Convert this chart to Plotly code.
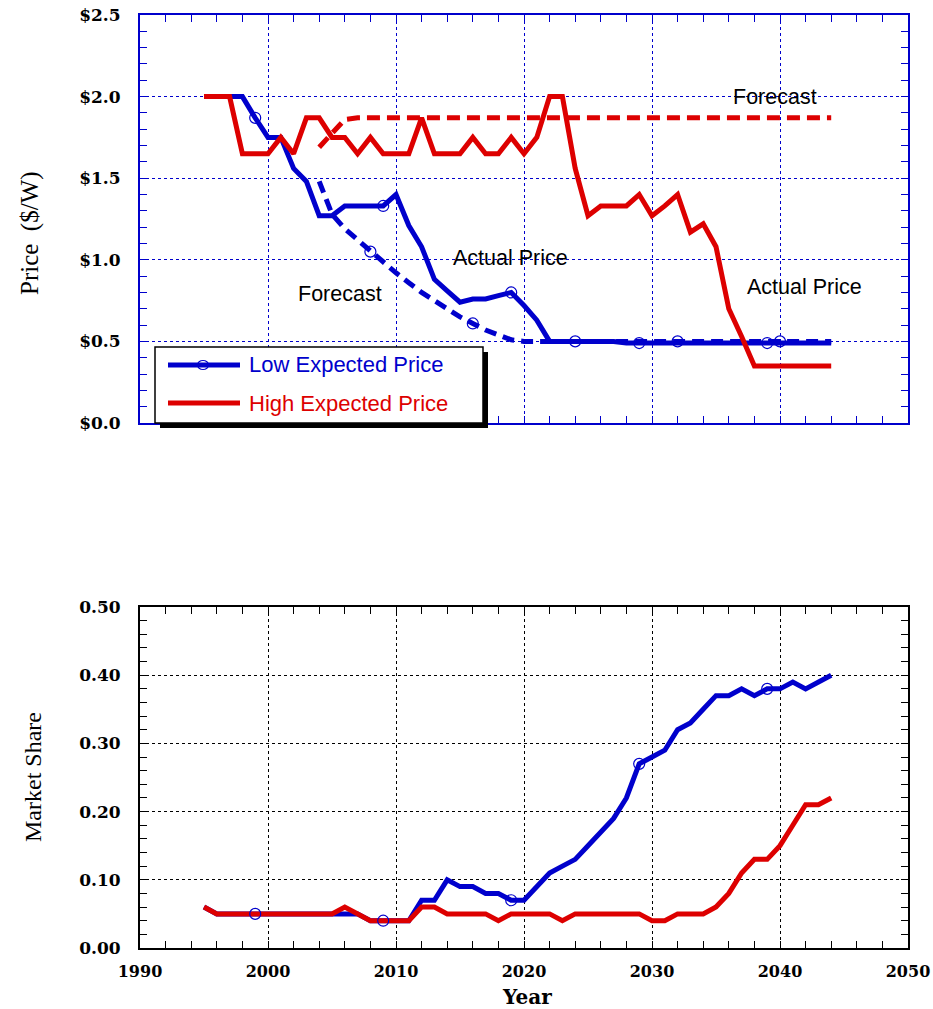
import plotly.graph_objects as go

# ---------------- data ----------------
years = list(range(1995, 2045))
forecast_years = list(range(2004, 2045))

price_low = [2.00, 2.00, 2.00, 2.00, 1.87, 1.75, 1.75, 1.56, 1.48, 1.27,
             1.27, 1.33, 1.33, 1.33, 1.33, 1.40, 1.21, 1.08, 0.88, 0.81,
             0.74, 0.76, 0.76, 0.78, 0.80, 0.72, 0.63, 0.50, 0.50, 0.50,
             0.50, 0.50, 0.50, 0.49, 0.49, 0.49, 0.49, 0.49, 0.49, 0.49,
             0.49, 0.49, 0.49, 0.49, 0.49, 0.49, 0.49, 0.49, 0.49, 0.49]
price_high = [2.00, 2.00, 2.00, 1.65, 1.65, 1.65, 1.75, 1.65, 1.87, 1.87,
              1.75, 1.75, 1.65, 1.75, 1.65, 1.65, 1.65, 1.87, 1.65, 1.65,
              1.65, 1.75, 1.65, 1.65, 1.75, 1.65, 1.75, 2.00, 2.00, 1.56,
              1.27, 1.33, 1.33, 1.33, 1.40, 1.27, 1.33, 1.40, 1.17, 1.22,
              1.08, 0.70, 0.53, 0.35, 0.35, 0.35, 0.35, 0.35, 0.35, 0.35]
forecast_low = [1.48, 1.28, 1.19, 1.12, 1.05, 0.98, 0.92, 0.86, 0.80, 0.75,
                0.70, 0.65, 0.61, 0.57, 0.54, 0.51, 0.50, 0.50, 0.50, 0.50,
                0.50, 0.50, 0.50, 0.50, 0.50, 0.50, 0.50, 0.50, 0.50, 0.50,
                0.50, 0.50, 0.50, 0.50, 0.50, 0.50, 0.50, 0.50, 0.50, 0.50, 0.50]
forecast_high = [1.69, 1.78, 1.86] + [1.87] * 38

share_low = [0.06, 0.05, 0.05, 0.05, 0.05, 0.05, 0.05, 0.05, 0.05, 0.05,
             0.05, 0.05, 0.05, 0.04, 0.04, 0.04, 0.04, 0.07, 0.07, 0.10,
             0.09, 0.09, 0.08, 0.08, 0.07, 0.07, 0.09, 0.11, 0.12, 0.13,
             0.15, 0.17, 0.19, 0.22, 0.27, 0.28, 0.29, 0.32, 0.33, 0.35,
             0.37, 0.37, 0.38, 0.37, 0.38, 0.38, 0.39, 0.38, 0.39, 0.40]
share_high = [0.06, 0.05, 0.05, 0.05, 0.05, 0.05, 0.05, 0.05, 0.05, 0.05,
              0.05, 0.06, 0.05, 0.04, 0.04, 0.04, 0.04, 0.06, 0.06, 0.05,
              0.05, 0.05, 0.05, 0.04, 0.05, 0.05, 0.05, 0.05, 0.04, 0.05,
              0.05, 0.05, 0.05, 0.05, 0.05, 0.04, 0.04, 0.05, 0.05, 0.05,
              0.06, 0.08, 0.11, 0.13, 0.13, 0.15, 0.18, 0.21, 0.21, 0.22]

marker_years_actual = [1999, 2009, 2019, 2029, 2039]
marker_years_forecast = [2008, 2016, 2024, 2032, 2040]

price_ticks = [0.0, 0.5, 1.0, 1.5, 2.0, 2.5]
price_tick_labels = ["$0.0", "$0.5", "$1.0", "$1.5", "$2.0", "$2.5"]
share_ticks = [0.0, 0.1, 0.2, 0.3, 0.4, 0.5]
share_tick_labels = ["0.00", "0.10", "0.20", "0.30", "0.40", "0.50"]
year_ticks = [1990, 2000, 2010, 2020, 2030, 2040, 2050]

legend_labels = ["Low Expected Price", "High Expected Price"]

# ---------------- styles ----------------
BLUE = "#0000CC"
RED = "#DD0000"
W, H = 933, 1009
L, R, T, B = 140, 908, 15, 948   # plot area in window pixels
PW, PH = R - L, B - T


def px(x):
    return (x - L) / PW


def py(y):
    return (B - y) / PH


def pick(xs, ys, sel):
    d = dict(zip(xs, ys))
    return [d[s] for s in sel]


fig = go.Figure()

LW = 5
# top chart
fig.add_trace(go.Scatter(x=forecast_years, y=forecast_low, mode="lines",
                         line=dict(color=BLUE, width=LW, dash="12px,7px"),
                         xaxis="x", yaxis="y", showlegend=False))
fig.add_trace(go.Scatter(x=forecast_years, y=forecast_high, mode="lines",
                         line=dict(color=RED, width=LW, dash="13px,7px"),
                         xaxis="x", yaxis="y", showlegend=False))
fig.add_trace(go.Scatter(x=years, y=price_low, mode="lines",
                         line=dict(color=BLUE, width=LW),
                         xaxis="x", yaxis="y", showlegend=False))
fig.add_trace(go.Scatter(x=years, y=price_high, mode="lines",
                         line=dict(color=RED, width=LW),
                         xaxis="x", yaxis="y", showlegend=False))
mk = dict(symbol="circle-open", size=11, color=BLUE, line=dict(width=1.2, color=BLUE))
fig.add_trace(go.Scatter(x=marker_years_actual, y=pick(years, price_low, marker_years_actual),
                         mode="markers", marker=mk, xaxis="x", yaxis="y", showlegend=False))
fig.add_trace(go.Scatter(x=marker_years_forecast, y=pick(forecast_years, forecast_low, marker_years_forecast),
                         mode="markers", marker=mk, xaxis="x", yaxis="y", showlegend=False))

# bottom chart
fig.add_trace(go.Scatter(x=years, y=share_low, mode="lines",
                         line=dict(color=BLUE, width=LW),
                         xaxis="x2", yaxis="y2", showlegend=False))
fig.add_trace(go.Scatter(x=years, y=share_high, mode="lines",
                         line=dict(color=RED, width=LW),
                         xaxis="x2", yaxis="y2", showlegend=False))
fig.add_trace(go.Scatter(x=marker_years_actual, y=pick(years, share_low, marker_years_actual),
                         mode="markers", marker=mk, xaxis="x2", yaxis="y2", showlegend=False))

YTICKFONT = dict(family="DejaVu Serif", size=17, color="black", weight="bold")
XTICKFONT = dict(family="DejaVu Serif", size=16, color="black", weight="bold")


def xax(color, labels, anchor):
    return dict(range=[1990, 2050], tickvals=year_ticks, ticktext=[str(v) for v in year_ticks],
                showticklabels=labels, automargin=False, ticklabeloverflow="allow",
                ticks="inside", ticklen=7, tickcolor=color, tickwidth=1,
                showline=True, linecolor=color, linewidth=2, mirror="allticks",
                showgrid=True, gridcolor=color, gridwidth=1, griddash="dot",
                zeroline=False, tickfont=XTICKFONT, ticklabelstandoff=8,
                minor=dict(dtick=2, ticks="inside", ticklen=7, tickcolor=color, showgrid=False),
                anchor=anchor)


def yax(color, rng, ticks, labels, mdt, domain):
    return dict(range=rng, tickvals=ticks, ticktext=labels, automargin=False,
                ticklabeloverflow="allow",
                ticks="inside", ticklen=7, tickcolor=color, tickwidth=1,
                showline=True, linecolor=color, linewidth=2, mirror="allticks",
                showgrid=True, gridcolor=color, gridwidth=1, griddash="dot",
                zeroline=False, tickfont=YTICKFONT, ticklabelstandoff=14,
                minor=dict(dtick=mdt, ticks="inside", ticklen=7, tickcolor=color, showgrid=False),
                domain=domain)


fig.update_layout(
    width=W, height=H,
    margin=dict(l=L, r=W - R, t=T, b=H - B, autoexpand=False),
    paper_bgcolor="white", plot_bgcolor="white",
    showlegend=False,
    xaxis=xax(BLUE, False, "y"),
    yaxis=yax(BLUE, [0, 2.5], price_ticks, price_tick_labels, 0.1, [py(423), 1.0]),
    xaxis2=xax("black", True, "y2"),
    yaxis2=yax("black", [0, 0.5], share_ticks, share_tick_labels, 0.02, [0, py(607)]),
)

# axis titles
SERIF = "Liberation Serif, Times New Roman, serif"
SANS = "Liberation Sans, Arial, sans-serif"
ann = []
ann.append(dict(text="Price  ($/W)", x=px(30), y=py(233), xref="paper", yref="paper",
                textangle=-90, showarrow=False, xanchor="center", yanchor="middle",
                font=dict(family=SERIF, size=25, color="black")))
ann.append(dict(text="Market Share", x=px(33), y=py(777), xref="paper", yref="paper",
                textangle=-90, showarrow=False, xanchor="center", yanchor="middle",
                font=dict(family=SERIF, size=24, color="black")))
ann.append(dict(text="Year", x=px(527), y=py(997), xref="paper", yref="paper",
                showarrow=False, xanchor="center", yanchor="middle",
                font=dict(family="DejaVu Serif", size=20, color="black", weight="bold")))

# in-plot labels
for txt, cx, cy in [("Forecast", 340, 294), ("Actual Price", 510, 258),
                    ("Forecast", 775, 97), ("Actual Price", 804, 287)]:
    ann.append(dict(text=txt, x=px(cx), y=py(cy), xref="paper", yref="paper",
                    showarrow=False, xanchor="center", yanchor="middle",
                    font=dict(family=SANS, size=21.5, color="black")))

# legend (drawn)
shapes = []
shapes.append(dict(type="rect", xref="paper", yref="paper", x0=px(160), x1=px(488),
                   y0=py(428), y1=py(352), fillcolor="black", line=dict(width=0), layer="above"))
shapes.append(dict(type="rect", xref="paper", yref="paper", x0=px(155), x1=px(483),
                   y0=py(423), y1=py(347), fillcolor="white", line=dict(color="black", width=1.5),
                   layer="above"))
for i, (lab, col) in enumerate(zip(legend_labels, [BLUE, RED])):
    yy = [365, 403][i]
    shapes.append(dict(type="line", xref="paper", yref="paper", x0=px(168), x1=px(240),
                       y0=py(yy), y1=py(yy), line=dict(color=col, width=LW), layer="above"))
    ann.append(dict(text=lab, x=px(247), y=py(yy), xref="paper", yref="paper",
                    showarrow=False, xanchor="left", yanchor="middle",
                    font=dict(family=SANS, size=22, color=col)))
shapes.append(dict(type="circle", xref="paper", yref="paper", x0=px(197.5), x1=px(208.5),
                   y0=py(369.5), y1=py(360.5), line=dict(color=BLUE, width=1.2), layer="above"))

fig.update_layout(annotations=ann, shapes=shapes)

fig.write_html("out.html", config={"displayModeBar": False},
               post_script="document.body.style.margin='0';document.body.style.overflow='hidden';")
